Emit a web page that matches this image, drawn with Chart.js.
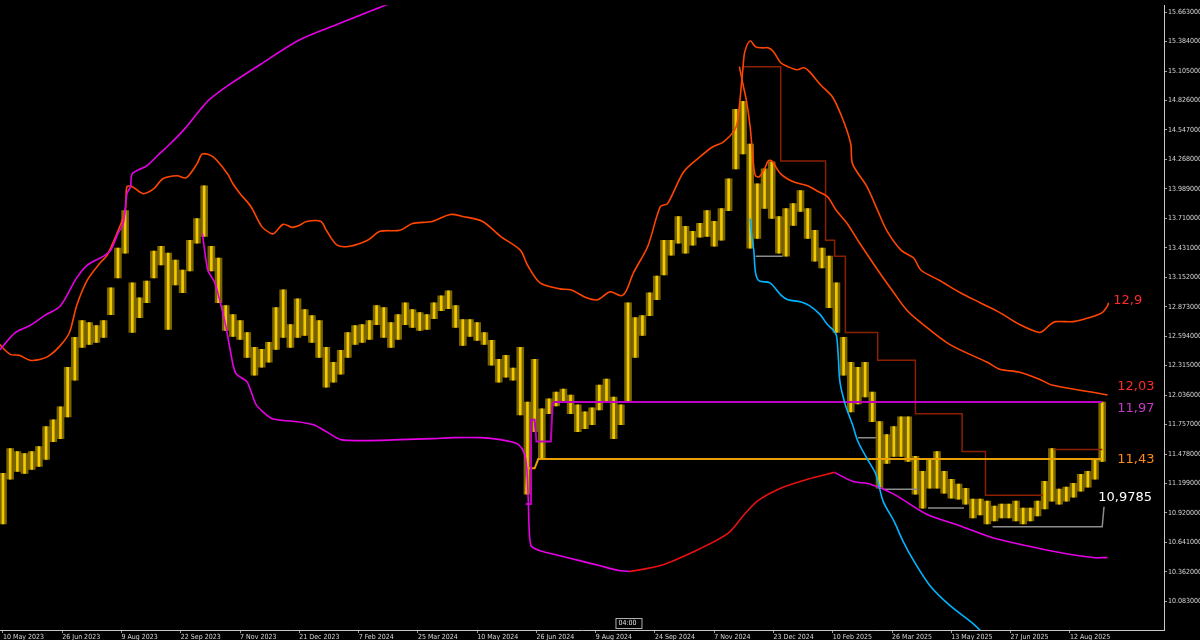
<!DOCTYPE html>
<html><head><meta charset="utf-8">
<script src="https://cdn.jsdelivr.net/npm/chart.js@4.4.1/dist/chart.umd.min.js"></script>
<style>html,body{margin:0;padding:0;background:#000;}canvas{display:block;}</style>
</head><body>
<canvas id="c" width="1200" height="640"></canvas>
<script>
// ---- tick labels ----
const dateLabels = ["10 May 2023","26 Jun 2023","9 Aug 2023","22 Sep 2023","7 Nov 2023","21 Dec 2023","7 Feb 2024","25 Mar 2024","10 May 2024","26 Jun 2024","9 Aug 2024","24 Sep 2024","7 Nov 2024","23 Dec 2024","10 Feb 2025","26 Mar 2025","13 May 2025","27 Jun 2025","12 Aug 2025"];
const dateTickBars = [0,33,66,99,132,165,198,231,264,297,330,363,396,429,462,495,528,561,594];
const priceTicks = [15.663,15.384,15.105,14.826,14.547,14.268,13.989,13.710,13.431,13.152,12.873,12.594,12.315,12.036,11.757,11.478,11.199,10.920,10.641,10.362,10.083];

// ---- price (sampled every 4 bars) ----
const barStep = 4;
const priceHigh = [11.295,11.530,11.502,11.483,11.502,11.549,11.737,11.802,11.924,12.300,
12.582,12.742,12.723,12.695,12.742,13.052,13.428,13.784,13.099,12.958,
13.117,13.399,13.446,13.380,13.315,13.221,13.503,13.709,14.019,13.446,
13.334,12.883,12.798,12.742,12.629,12.488,12.469,12.535,12.864,13.033,
12.704,12.948,12.845,12.789,12.742,12.488,12.347,12.460,12.629,12.695,
12.704,12.742,12.883,12.864,12.723,12.798,12.911,12.845,12.817,12.798,
12.911,12.977,13.024,12.883,12.751,12.751,12.723,12.629,12.554,12.375,
12.413,12.291,12.488,11.971,12.375,11.906,12.000,12.065,12.094,12.037,
11.943,11.877,11.915,12.131,12.187,12.018,11.943,12.911,12.770,12.789,
13.005,13.164,13.503,13.503,13.728,13.634,13.587,13.662,13.784,13.681,
13.803,14.085,14.743,14.818,14.414,14.038,14.179,14.245,13.728,13.803,
13.850,13.972,13.803,13.597,13.428,13.352,13.099,12.582,12.347,12.300,
12.347,12.065,11.784,11.661,11.737,11.830,11.830,11.455,11.314,11.426,
11.502,11.314,11.239,11.192,11.154,11.051,11.051,11.032,10.985,11.004,
11.004,11.032,10.966,10.966,11.032,11.220,11.530,11.145,11.164,11.201,
11.286,11.314,11.426,11.971];
const priceLow = [10.816,11.239,11.314,11.295,11.333,11.361,11.426,11.596,11.624,11.830,
12.178,12.488,12.516,12.535,12.582,12.798,13.146,13.380,12.629,12.770,
12.911,13.146,13.268,12.657,13.080,13.005,13.211,13.474,13.540,13.211,
12.911,12.648,12.591,12.563,12.394,12.225,12.300,12.347,12.469,12.582,
12.488,12.582,12.601,12.535,12.394,12.112,12.159,12.234,12.394,12.516,
12.535,12.563,12.704,12.582,12.488,12.563,12.704,12.676,12.648,12.657,
12.761,12.836,12.854,12.676,12.507,12.591,12.554,12.516,12.319,12.159,
12.206,12.178,11.849,11.098,11.690,11.436,11.859,11.934,11.971,11.859,
11.690,11.718,11.755,11.896,11.971,11.624,11.755,11.971,12.394,12.601,
12.789,12.939,13.174,13.362,13.474,13.380,13.456,13.531,13.540,13.446,
13.503,13.784,14.179,14.320,13.428,13.521,13.803,13.709,13.380,13.352,
13.644,13.775,13.521,13.305,13.240,12.864,12.629,12.225,11.877,11.953,
12.018,11.784,11.154,11.389,11.455,11.455,11.408,11.098,10.966,11.154,
11.154,11.107,11.060,11.051,11.004,10.872,10.900,10.816,10.844,10.872,
10.872,10.844,10.816,10.844,10.891,10.957,11.032,11.004,11.032,11.070,
11.126,11.164,11.239,11.408];

// ---- indicator lines: [bar, value] ----
const vwapHigh = [[-2,12.460],[7,12.629],[15,12.695],[23,12.789],[32,12.883],[41,13.146],[47,13.268],[56,13.352],[60,13.409],[64,13.568],[67,13.662],[69,13.944],[71,14.010],[72,14.132],[80,14.207],[87,14.320],[93,14.414],[101,14.555],[110,14.743],[115,14.837],[126,14.977],[143,15.165],[165,15.400],[188,15.560],[213,15.729],[232,15.84]];
const upperBand = [[-2,12.516],[4,12.422],[9,12.413],[15,12.366],[21,12.375],[26,12.413],[32,12.507],[37,12.629],[41,12.883],[47,13.127],[54,13.287],[58,13.362],[63,13.550],[68,13.775],[69,14.010],[72,14.010],[78,13.944],[84,13.991],[89,14.085],[97,14.113],[102,14.094],[108,14.226],[111,14.320],[117,14.292],[125,14.132],[128,14.038],[132,13.944],[138,13.822],[144,13.634],[149,13.568],[151,13.568],[156,13.653],[161,13.625],[165,13.644],[169,13.681],[177,13.681],[180,13.597],[186,13.456],[193,13.446],[203,13.503],[210,13.587],[221,13.597],[228,13.662],[239,13.681],[249,13.747],[256,13.728],[267,13.681],[277,13.540],[288,13.409],[292,13.268],[299,13.099],[310,13.042],[316,13.033],[325,12.958],[331,12.939],[338,13.014],[344,12.977],[347,13.024],[351,13.193],[359,13.446],[366,13.822],[370,13.850],[379,14.151],[388,14.292],[395,14.386],[401,14.433],[407,14.536],[409,14.630],[412,15.137],[413,15.287],[416,15.391],[419,15.334],[423,15.325],[426,15.325],[429,15.288],[433,15.184],[437,15.147],[442,15.118],[446,15.137],[449,15.100],[455,14.978],[462,14.855],[468,14.630],[472,14.414],[473,14.226],[481,14.010],[487,13.784],[492,13.597],[500,13.409],[507,13.334],[511,13.221],[522,13.117],[533,13.005],[544,12.911],[555,12.817],[566,12.704],[577,12.629],[580,12.657],[583,12.704],[586,12.732],[596,12.732],[605,12.770],[612,12.817],[615,12.883],[615.5,12.911]];
const upperBand2 = [[410,15.147],[412,14.978],[414,14.818],[416,14.573],[418,14.198],[419,14.113],[421,14.104],[424,14.179],[426,14.254],[428,14.254],[433,14.132],[440,14.057],[448,14.019],[453,13.972],[459,13.916],[464,13.784],[470,13.662],[477,13.474],[487,13.221],[496,13.005],[503,12.845],[511,12.723],[527,12.516],[548,12.347],[555,12.281],[566,12.253],[577,12.187],[584,12.131],[606,12.065],[615,12.037]];
const cyanLine = [[416,13.709],[417,13.521],[418,13.409],[419,13.193],[421,13.117],[427,13.099],[433,12.986],[437,12.939],[444,12.920],[449,12.883],[455,12.798],[459,12.704],[462,12.657],[464,12.601],[465,12.413],[466,12.159],[469,11.943],[473,11.755],[476,11.596],[481,11.436],[486,11.286],[490,11.032],[496,10.844],[501,10.656],[507,10.468],[516,10.233],[527,10.046],[541,9.858],[549,9.717]];
const lowerBandA = [[111,13.568],[114,13.221],[118,13.099],[121,12.911],[124,12.695],[128,12.328],[130,12.234],[136,12.159],[141,11.943],[150,11.812],[164,11.784],[173,11.755],[180,11.690],[188,11.614],[203,11.605],[221,11.614],[239,11.624],[251,11.633],[266,11.633],[277,11.614],[286,11.577],[289,11.530],[291,11.436],[292,11.248],[292.5,11.004],[293,10.750],[294,10.609],[299,10.562],[310,10.515],[321,10.468],[332,10.421],[343,10.374],[349,10.365]];
const lowerBandB = [[349,10.365],[366,10.421],[388,10.581],[404,10.731],[412,10.891],[420,11.032],[433,11.154],[448,11.239],[463,11.304]];
const lowerBandC = [[463,11.304],[473,11.220],[483,11.192],[496,11.098],[514,10.910],[533,10.797],[551,10.684],[570,10.609],[589,10.543],[607,10.497],[615,10.497]];
const levelMagenta = [[291,11.004],[294,11.004],[294,11.802],[296,11.802],[297,11.596],[305,11.596],[306,11.953],[307,11.97],[612,11.97]];
const levelOrange = [[291,11.098],[292,11.342],[296,11.342],[298,11.43],[612,11.43]];
const stepRedA = [[412,15.147],[433,15.147],[433,14.254],[458,14.254],[458,13.503],[463,13.503],[463,13.352],[469,13.352],[469,12.629],[487,12.629],[487,12.366],[508,12.366],[508,11.859],[534,11.859],[534,11.502],[547,11.502],[547,11.088],[579,11.088]];
const stepRedB = [[585,11.520],[612,11.520]];
const stepGray1 = [[419,13.352],[434,13.352]];
const stepGray2 = [[476,11.633],[486,11.633]];
const stepGray3 = [[490,11.145],[509,11.145]];
const stepGray4 = [[515,10.966],[535,10.966]];
const stepGray5 = [[551,10.788],[612,10.788],[613,10.9785]];

// ---- level texts ----
const levelLabels = ["12,9","12,03","11,97","11,43","10,9785"];
const levelValues = [12.9, 12.03, 11.97, 11.43, 10.9785];
const levelColors = ["#ff2a2a","#ff2a2a","#c838c8","#ff8a1a","#ffffff"];
const levelDx = [11, 15, 15, 15, -4];
const levelDy = [-3, -9, 7, 1, -9];

const toXY = arr => arr.map(p => ({x: p[0], y: p[1]}));
function lineDS(pts, color, width, tension) {
  return {type:'line', data: toXY(pts), borderColor: color, borderWidth: width, pointRadius: 0,
          tension: tension, fill: false, order: 1};
}

const priceData = priceHigh.map((h, i) => ({x: i * barStep, y: [priceLow[i], h]}));

const overlay = {
  id: 'overlay',
  afterDatasetsDraw(chart) {
    const {ctx, scales: {x, y}, chartArea} = chart;
    ctx.save();
    ctx.font = '13px "DejaVu Sans"';
    ctx.textBaseline = 'middle';
    ctx.textAlign = 'left';
    const lastBar = (priceHigh.length - 1) * barStep;
    levelLabels.forEach((t, i) => {
      ctx.fillStyle = levelColors[i];
      ctx.fillText(t, x.getPixelForValue(lastBar) + levelDx[i], y.getPixelForValue(levelValues[i]) + levelDy[i]);
    });
    const bx = x.getPixelForValue(341);
    ctx.strokeStyle = '#b0b0b0';
    ctx.lineWidth = 1;
    ctx.strokeRect(bx + 0.5, chartArea.bottom - 11.5, 26, 10);
    ctx.font = '7px "DejaVu Sans Condensed", "DejaVu Sans"';
    ctx.fillStyle = '#e0e0e0';
    ctx.fillText('04:00', bx + 3, chartArea.bottom - 6.5);
    ctx.restore();
  }
};

const tickFont = {family: '"DejaVu Sans Condensed", "DejaVu Sans", sans-serif', size: 7};

new Chart(document.getElementById('c'), {
  type: 'bar',
  data: {
    datasets: [
      {type:'bar', data: priceData, backgroundColor: '#7a6400', borderWidth: 0, barThickness: 7, order: 6, grouped: false},
      {type:'bar', data: priceData, backgroundColor: '#f2c800', borderWidth: 0, barThickness: 2, order: 5, grouped: false},
      lineDS(vwapHigh, '#e600e6', 1.6, 0.3),
      lineDS(upperBand, '#ff4500', 1.6, 0.3),
      lineDS(upperBand2, '#ff4500', 1.6, 0.3),
      lineDS(cyanLine, '#00b4ff', 1.6, 0.3),
      lineDS(lowerBandA, '#e600e6', 1.6, 0.2),
      lineDS(lowerBandB, '#e81010', 1.6, 0.3),
      lineDS(lowerBandC, '#e600e6', 1.6, 0.3),
      lineDS(levelMagenta, '#c000c0', 2, 0),
      lineDS(levelOrange, '#e8a000', 2, 0),
      lineDS(stepRedA, '#8b2000', 1.5, 0),
      lineDS(stepRedB, '#8b2000', 1.5, 0),
      lineDS(stepGray1, '#8c8c8c', 1.5, 0),
      lineDS(stepGray2, '#8c8c8c', 1.5, 0),
      lineDS(stepGray3, '#8c8c8c', 1.5, 0),
      lineDS(stepGray4, '#8c8c8c', 1.5, 0),
      lineDS(stepGray5, '#8c8c8c', 1.5, 0)
    ]
  },
  options: {
    responsive: false,
    animation: false,
    devicePixelRatio: 1,
    layout: {padding: 0},
    plugins: {legend: {display: false}, tooltip: {enabled: false}},
    scales: {
      x: {
        type: 'linear', position: 'bottom', min: -1.67, max: 646.4, offset: false,
        grid: {display: true, drawOnChartArea: false, drawTicks: true, tickLength: 3, color: '#a0a0a0', offset: false},
        border: {display: true, color: '#c8c8c8', width: 1},
        ticks: {autoSkip: false, maxRotation: 0, minRotation: 0, align: 'start', padding: 0, color: '#d8d8d8', font: tickFont,
                callback: v => dateLabels[dateTickBars.indexOf(v)]},
        afterBuildTicks: s => { s.ticks = dateTickBars.map(v => ({value: v})); },
        afterFit: s => { s.height = 10; }
      },
      y: {
        type: 'linear', position: 'right', min: 9.811, max: 15.729,
        grid: {display: true, drawOnChartArea: false, drawTicks: true, tickLength: 3, color: '#a0a0a0'},
        border: {display: true, color: '#c8c8c8', width: 1},
        ticks: {padding: 1, color: '#d8d8d8', font: tickFont, callback: v => v.toFixed(6)},
        afterBuildTicks: s => { s.ticks = priceTicks.map(v => ({value: v})); },
        afterFit: s => { s.width = 36; }
      }
    }
  },
  plugins: [overlay]
});
</script>
</body></html>
